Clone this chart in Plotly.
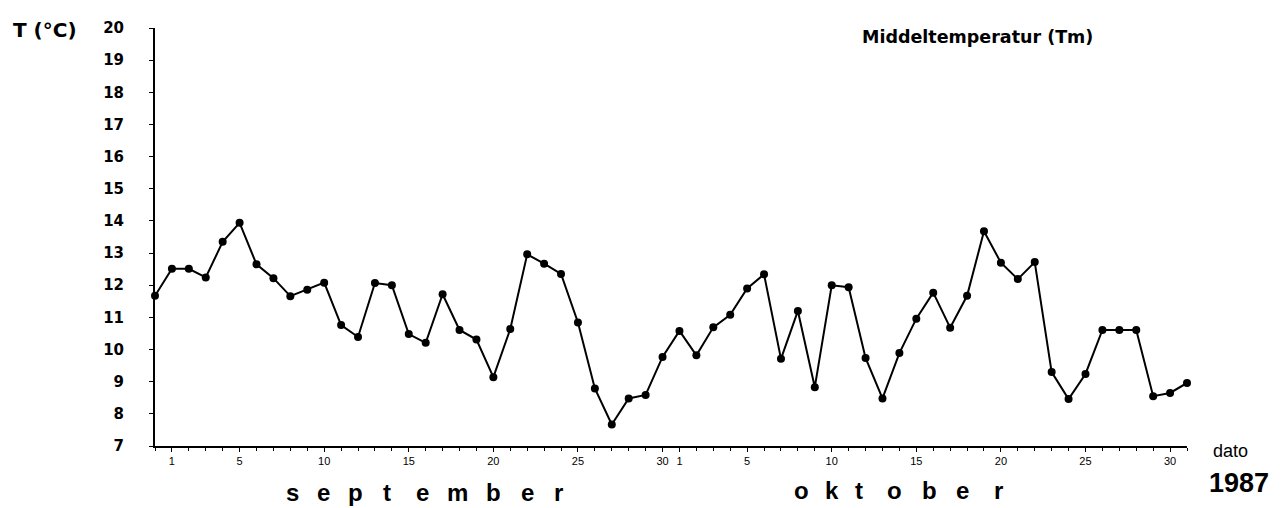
import plotly.graph_objects as go

# x index: 0 = 31 Aug, 1..30 = September, 31..61 = October 1..31
days = list(range(0, 62))
temps = [
    11.67,
    12.51, 12.51, 12.24, 13.35, 13.94, 12.65, 12.22, 11.66, 11.86, 12.08,
    10.76, 10.39, 12.07, 12.00, 10.48, 10.21, 11.72, 10.61, 10.31, 9.14,
    10.64, 12.96, 12.67, 12.35, 10.84, 8.79, 7.67, 8.48, 8.59, 9.77,
    10.58, 9.82, 10.69, 11.08, 11.90, 12.34, 9.71, 11.20, 8.83, 12.00,
    11.94, 9.74, 8.48, 9.89, 10.96, 11.77, 10.68, 11.67, 13.68, 12.70,
    12.19, 12.72, 9.30, 8.46, 9.24, 10.61, 10.61, 10.61, 8.55, 8.65, 8.96,
]
x_tick_vals = [1, 5, 10, 15, 20, 25, 30, 31, 35, 40, 45, 50, 55, 60]
x_tick_text = ["1", "5", "10", "15", "20", "25", "30", "1", "5", "10", "15", "20", "25", "30"]
y_tick_vals = list(range(7, 21))
y_tick_text = [str(v) for v in y_tick_vals]

month1 = "september"
month2 = "oktober"

# page has an 8px body margin; figure placed at (8, 8)
OFF = 8
W, H = 1284 - OFF, 508 - OFF
PL, PR, PT, PB = 155, 1187, 19, 446  # plot area in window pixels
L, T = PL - OFF, PT - OFF
R, B = 1284 - PR, 508 - PB
PW, PH = PR - PL, PB - PT


def px(x):
    return (x - PL) / PW


def py(y):
    return 1 - (y - PT) / PH


fig = go.Figure()
fig.add_trace(go.Scatter(
    x=days, y=temps, mode="lines+markers",
    line=dict(color="black", width=2),
    marker=dict(color="black", size=8),
    cliponaxis=False, showlegend=False,
))

ann = []


def add_text(text, x, y, size, bold=False, family="DejaVu Sans", xanchor="left"):
    ann.append(dict(
        text=f"<b>{text}</b>" if bold else text,
        x=px(x), y=py(y), xref="paper", yref="paper",
        xanchor=xanchor, yanchor="middle", showarrow=False,
        font=dict(size=size, family=family, color="black"),
    ))


add_text("T (°C)", 11, 21, 20, bold=True)
add_text("Middeltemperatur (Tm)", 860, 28, 17.5, bold=True)
add_text("dato", 1211, 451, 18, family="Liberation Sans")
add_text("1987", 1207, 484, 27, bold=True, family="Liberation Sans")

sep_pos = [292, 323, 355, 387, 422, 457, 493, 527, 558]
okt_pos = [801, 832, 859, 894, 929, 962, 998]
for ch, xp in zip(month1, sep_pos):
    add_text(ch, xp, 494, 24, bold=True, family="Liberation Sans", xanchor="center")
for ch, xp in zip(month2, okt_pos):
    add_text(ch, xp, 491, 24, bold=True, family="Liberation Sans", xanchor="center")

fig.update_layout(
    width=W, height=H,
    margin=dict(l=L, r=R, t=T, b=B),
    paper_bgcolor="white", plot_bgcolor="white",
    annotations=ann,
    xaxis=dict(
        range=[0, 61], showgrid=False, zeroline=False,
        showline=True, linecolor="black", linewidth=2,
        tickmode="array", tickvals=x_tick_vals, ticktext=x_tick_text,
        ticks="outside", ticklen=4, tickcolor="black", tickwidth=1,
        tickfont=dict(size=11, family="Liberation Sans", color="black"),
        minor=dict(dtick=1, tick0=0, ticks="outside", ticklen=3, tickcolor="black"),
    ),
    yaxis=dict(
        range=[7, 20], showgrid=False, zeroline=False,
        showline=True, linecolor="black", linewidth=2,
        tickmode="array", tickvals=y_tick_vals, ticktext=y_tick_text,
        ticks="outside", ticklen=4, tickcolor="black", tickwidth=1,
        ticklabelstandoff=22,
        tickfont=dict(size=15, family="DejaVu Sans", color="black", weight="bold"),
    ),
)

fig.write_html("out.html")
